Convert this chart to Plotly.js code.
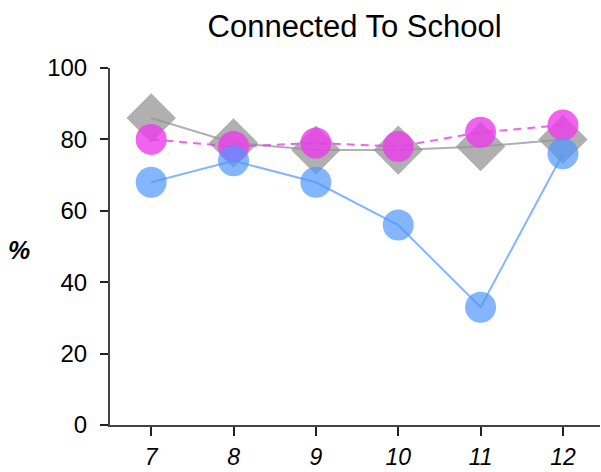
<!DOCTYPE html>
<html>
<head>
<meta charset="utf-8">
<script src="https://cdn.plot.ly/plotly-3.0.1.min.js"></script>
<style>html,body{margin:0;padding:0;background:#fff}#chart{width:601px;height:472px}</style>
</head>
<body>
<div id="chart"></div>
<script>
const grades = [7, 8, 9, 10, 11, 12];
const tickLabels = ['7', '8', '9', '10', '11', '12'];
const graySeries = [86, 79, 77, 77, 78, 80];
const blueSeries = [68, 74, 68, 56, 33, 76];
const magentaSeries = [80, 78, 79, 78, 82, 84];
const yTicks = [0, 20, 40, 60, 80, 100];

const traces = [
  {
    x: grades, y: graySeries, type: 'scatter', mode: 'lines+markers',
    line: {color: 'rgba(150,150,150,0.75)', width: 2},
    marker: {symbol: 'diamond', size: 38, color: 'rgba(150,150,150,0.75)'},
    hoverinfo: 'skip'
  },
  {
    x: grades, y: magentaSeries, type: 'scatter', mode: 'lines+markers',
    line: {color: 'rgba(235,60,235,0.8)', width: 2, dash: '8px,6px'},
    marker: {symbol: 'circle', size: 31, color: 'rgba(235,60,235,0.8)'},
    hoverinfo: 'skip'
  },
  {
    x: grades, y: blueSeries, type: 'scatter', mode: 'lines+markers',
    line: {color: 'rgba(80,150,255,0.7)', width: 2},
    marker: {symbol: 'circle', size: 31, color: 'rgba(80,150,255,0.7)'},
    hoverinfo: 'skip'
  }
];

const layout = {
  width: 601, height: 472,
  margin: {l: 110, r: 1, t: 68, b: 47},
  paper_bgcolor: '#fff', plot_bgcolor: '#fff',
  showlegend: false,
  font: {family: '"Liberation Sans", Arial, sans-serif', color: '#000'},
  title: {text: 'Connected To School', font: {size: 31, color: '#000'}, x: 0.59, xanchor: 'center', y: 0.945, yanchor: 'middle'},
  xaxis: {
    range: [6.5, 12.45], tickvals: grades, ticktext: tickLabels,
    showgrid: false, zeroline: false, showline: true, linecolor: '#444', linewidth: 2,
    ticks: 'outside', ticklen: 9, tickwidth: 2, tickcolor: '#222',
    tickfont: {size: 23, style: 'italic'}, ticklabelstandoff: 1
  },
  yaxis: {
    range: [0, 100], tickvals: yTicks,
    showgrid: false, zeroline: false, showline: true, linecolor: '#444', linewidth: 2,
    ticks: 'outside', ticklen: 8, tickwidth: 2, tickcolor: '#222',
    tickfont: {size: 24}, ticklabelstandoff: 8
  },
  annotations: [{
    text: '<b><i>%</i></b>', xref: 'paper', yref: 'paper', x: -0.185, y: 0.49,
    xanchor: 'center', yanchor: 'middle', showarrow: false, font: {size: 25, color: '#000'}
  }]
};

Plotly.newPlot('chart', traces, layout, {displayModeBar: false, staticPlot: true});
</script>
</body>
</html>
